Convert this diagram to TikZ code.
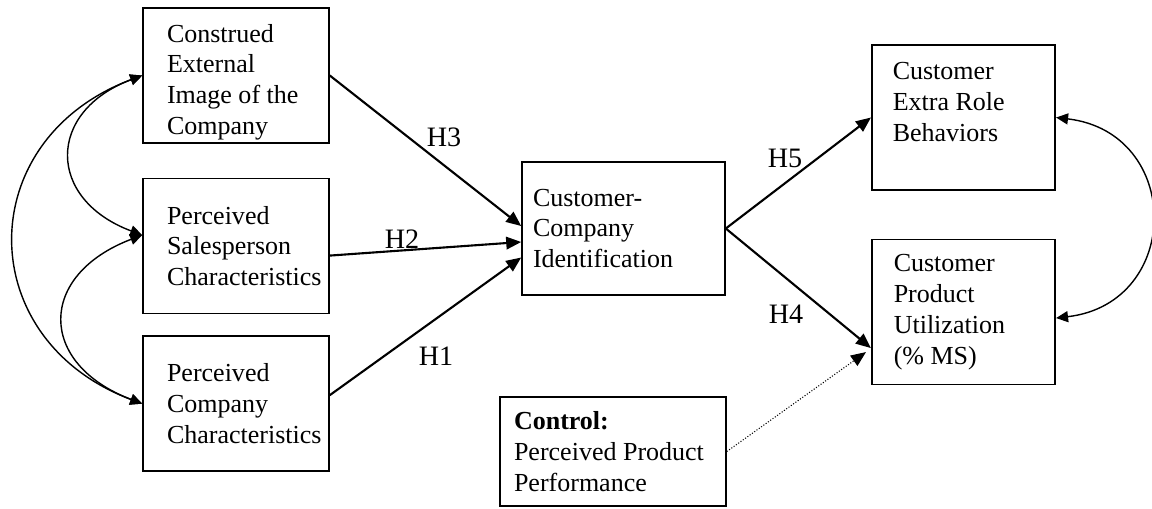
\documentclass[tikz,border=0pt]{standalone}
\usepackage{fontspec}
\setmainfont{Liberation Serif}
\usepackage{tikz}
\usetikzlibrary{arrows.meta,positioning}
\tikzset{
    construct/.style={draw, line width=0.9pt, align=flush left, inner xsep=0pt,
        font=\fontsize{14.8}{17.5}\selectfont},
    indent/.style={execute at begin node={\leftskip=#1\relax}},
    hyp/.style={-{Triangle[length=0.3cm, width=0.25cm]}, line width=1.2pt},
    corr/.style={{Triangle[length=0.24cm, width=0.22cm]}-{Triangle[length=0.24cm, width=0.22cm]}, line width=0.8pt},
    ctrl/.style={-{Triangle[length=0.3cm, width=0.25cm, sep=0pt]}, line width=0.6pt, densely dotted},
    hlabel/.style={font=\fontsize{16}{18}\selectfont, inner sep=1pt}
}

\begin{document}
\begin{tikzpicture}
                    \useasboundingbox (0,0) rectangle (23.04,-10.16);

                    % antecedents
                    \node[construct, text width=3.72cm, minimum height=2.7cm, inner ysep=0pt,
                          indent=0.48cm] (ext) at (4.72,-1.51)
                          {\rule{0pt}{0.62cm}Construed\\External\\Image of the\\Company};
                    \node[construct, text width=3.72cm, minimum height=2.7cm,
                          indent=0.48cm, below=0.68cm of ext] (sales)
                          {Perceived\\Salesperson\\Characteristics};
                    \node[construct, text width=3.72cm, minimum height=2.7cm,
                          indent=0.48cm, below=0.42cm of sales] (comp)
                          {Perceived\\Company\\Characteristics};

                    % mediator
                    \node[construct, text width=4.06cm, minimum height=2.66cm,
                          indent=0.22cm] (ident) at (12.47,-4.57)
                          {Customer-\\Company\\Identification};

                    % outcomes
                    \node[construct, text width=3.67cm, minimum height=2.9cm,
                          indent=0.42cm] (extra) at (19.27,-2.35)
                          {Customer\\Extra Role\\Behaviors\\\mbox{}};
                    \node[construct, text width=3.67cm, minimum height=2.9cm,
                          indent=0.44cm, below=0.96cm of extra] (util)
                          {Customer\\Product\\Utilization\\(\% MS)};

                    \node[construct, text width=4.52cm, minimum height=2.18cm,
                          indent=0.28cm] (control) at (12.26,-9.03)
                          {\textbf{Control:}\\Perceived Product\\Performance};

                    % hypotheses
                    \draw[hyp] (ext.east) -- ([yshift=0.05cm]ident.west);
                    \draw[hyp] ([yshift=-0.19cm]sales.east) -- ([yshift=-0.27cm]ident.west);
                    \draw[hyp] ([yshift=0.17cm]comp.east) -- ([yshift=-0.58cm]ident.west);
                    \draw[hyp] (ident.east) -- (extra.west);
                    \draw[hyp] (ident.east) -- ([yshift=-0.72cm]util.west);
                    \draw[ctrl] (control.east) -- ([xshift=-0.1cm, yshift=-0.8cm]util.west);

                    \node[hlabel] (h3) at (8.88,-2.74) {H3};
                    \node[hlabel] (h2) at (8.04,-4.78) {H2};
                    \node[hlabel] (h1) at (8.72,-7.12) {H1};
                    \node[hlabel] (h5) at (15.70,-3.16) {H5};
                    \node[hlabel] (h4) at (15.72,-6.28) {H4};

                    % correlations
                    \draw[corr] (ext.west) .. controls +(-3.41,-1.28) and +(-3.41,1.28) .. (comp.west);
                    \draw[corr] (ext.west) .. controls +(-1.92,-0.72) and +(-1.92,0.72) .. ([yshift=0.22cm]sales.west);
                    \draw[corr] ([yshift=0.22cm]sales.west) .. controls +(-2.1,-0.8) and +(-2.1,0.8) .. (comp.west);
                    \draw[corr] (extra.east) .. controls +(2.54,-0.3) and +(2.54,0.3) .. ([yshift=-0.12cm]util.east);
                \end{tikzpicture}
\end{document}
